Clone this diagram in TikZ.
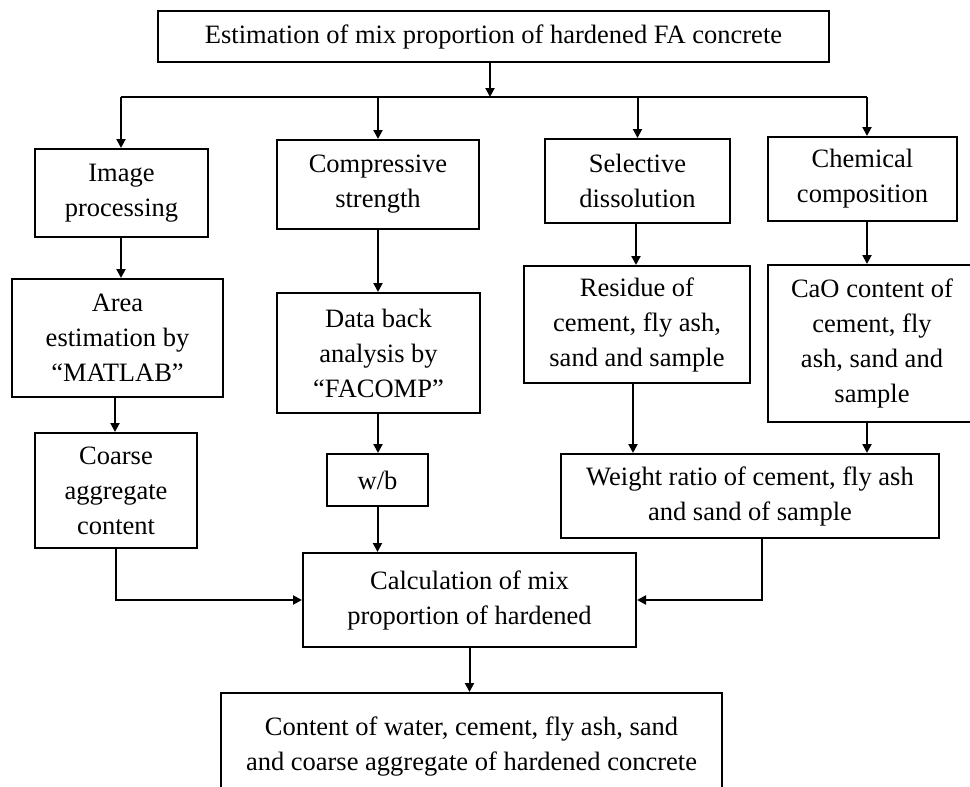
\documentclass[tikz,border=0pt]{standalone}
\usepackage{fontspec}
\setmainfont{Liberation Serif}
\usetikzlibrary{arrows.meta,calc}
\begin{document}
\begin{tikzpicture}[x=1pt,y=-1pt,
  box/.style={draw,line width=2pt,align=center,inner sep=0pt,
    font=\fontsize{26.5pt}{35pt}\selectfont},
  link/.style={line width=2pt},
  arr/.style={link,-{Triangle[length=9pt,width=9pt]}}]
\useasboundingbox (0,0) rectangle (970,787);
\clip (0,0) rectangle (970,787);

% boxes
\node[box,minimum width=671,minimum height=51] (top) at (493.5,36.5)
  {Estimation of mix proportion of hardened FA concrete};
\node[box,minimum width=173,minimum height=88] (img) at (121.5,193)
  {Image\\processing};
\node[box,minimum width=202,minimum height=89] (comp) at (378,184.5)
  {Compressive\\strength};
\node[box,minimum width=185,minimum height=84] (sel) at (637.5,181)
  {Selective\\dissolution};
\node[box,minimum width=189,minimum height=84] (chem) at (862.5,179)
  {Chemical\\composition};
\node[box,minimum width=211,minimum height=118] (area) at (117.5,338)
  {Area\\estimation by\\``MATLAB''};
\node[box,minimum width=203,minimum height=120] (data) at (378.5,353)
  {Data back\\analysis by\\``FACOMP''};
\node[box,minimum width=226,minimum height=117] (res) at (637,324.5)
  {Residue of\\cement, fly ash,\\sand and sample};
\node[box,minimum width=208,minimum height=157] (cao) at (872,343.5)
  {CaO content of\\cement, fly\\ash, sand and\\sample};
\node[box,minimum width=162,minimum height=115] (coarse) at (116,490.5)
  {Coarse\\aggregate\\content};
\node[box,minimum width=101,minimum height=52] (wb) at (377.5,480)
  {w/b};
\node[box,minimum width=378,minimum height=84] (weight) at (750,496)
  {Weight ratio of cement, fly ash\\and sand of sample};
\node[box,minimum width=333,minimum height=94] (calc) at (469.5,600)
  {Calculation of mix\\proportion of hardened};
\node[box,minimum width=501,minimum height=107] (final) at (471.5,746.5)
  {Content of water, cement, fly ash, sand\\and coarse aggregate of hardened concrete};

% distribution bus
\coordinate (busL) at (121,97);
\coordinate (busR) at (867,97);
\draw[link] (busL) -- (busR);
\draw[arr] ($(top.south)+(-3.5,0)$) -- ($(top.south |- busL)+(-3.5,0)$);
\draw[arr] (busL) -- (busL |- img.north);
\draw[arr] (comp.north |- busL) -- (comp.north);
\draw[arr] (sel.north |- busL) -- (sel.north);
\draw[arr] (busR) -- (busR |- chem.north);

% columns
\draw[arr] (busL |- img.south) -- (busL |- area.north);
\draw[arr] ($(area.south)+(-2.5,0)$) -- (coarse.north -| {$(area.south)+(-2.5,0)$});
\draw[arr] (comp.south) -- (comp.south |- data.north);
\draw[arr] (data.south -| comp.south) -- (comp.south |- wb.north);
\draw[arr] ($(sel.south)+(-1.5,0)$) -- ($(sel.south |- res.north)+(-1.5,0)$);
\draw[arr] (busR |- chem.south) -- (busR |- cao.north);
\draw[arr] ($(res.south)+(-4,0)$) -- ($(res.south |- weight.north)+(-4,0)$);
\draw[arr] (busR |- cao.south) -- (busR |- weight.north);

% into the calculation
\draw[arr] (wb.south) -- (wb.south |- calc.north);
\draw[arr] (coarse.south) |- (calc.west);
\draw[arr] ($(weight.south)+(12,0)$) |- (calc.east);
\draw[arr] (calc.south) -- (calc.south |- final.north);
\end{tikzpicture}
\end{document}
